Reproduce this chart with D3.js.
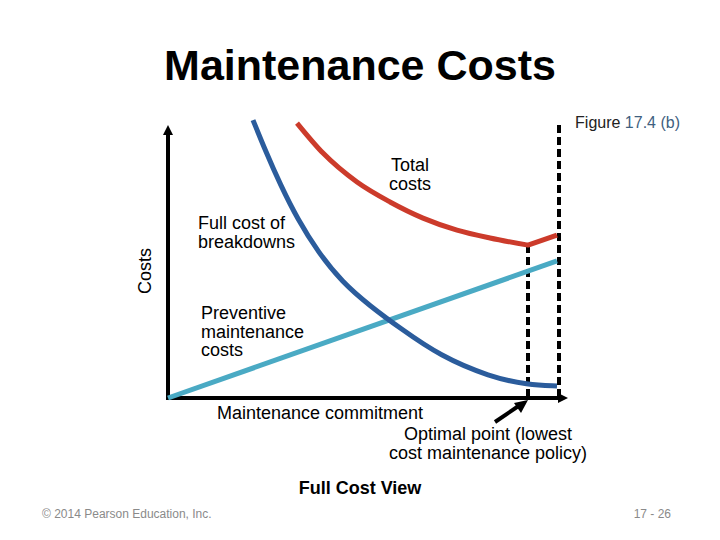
<!DOCTYPE html>
<html>
<head>
<meta charset="utf-8">
<script src="https://cdn.jsdelivr.net/npm/d3@7"></script>
<style>
  html, body { margin: 0; padding: 0; background: #fff; }
  svg { display: block; font-family: "Liberation Sans", Arial, sans-serif; }
</style>
</head>
<body>
<svg id="chart" width="720" height="540"></svg>
<script>
// ---- data (x: maintenance commitment, y: cost; arbitrary units) ----
const totalCosts = [[3.225,10.07],[3.875,8.97],[4.725,7.91],[5.55,7.18],[6.375,6.59],[7.225,6.15],[8.05,5.86],[9.0,5.60],[9.725,5.97]];
const breakdownCosts = [[2.125,10.18],[2.45,9.01],[2.8,7.84],[3.25,6.52],[3.75,5.35],[4.35,4.25],[5.05,3.37],[5.8,2.56],[6.8,1.54],[8.05,0.77],[9.0,0.48],[9.725,0.44]];
const preventiveCosts = [[0,0],[9.725,5.02]];
const optimalPoint = [9.0, 5.60];
const policyLimit = 9.775;
const xDomain = [0, 10];
const yDomain = [0, 10];

const svg = d3.select("#chart");
const x = d3.scaleLinear().domain(xDomain).range([168, 568]);
const y = d3.scaleLinear().domain(yDomain).range([398, 125]);

// title
svg.append("text").attr("x", 360).attr("y", 80).attr("text-anchor", "middle")
  .attr("font-size", 43).attr("font-weight", "bold").attr("fill", "#000").text("Maintenance Costs");

// figure ref
const fig = svg.append("text").attr("x", 680).attr("y", 128).attr("text-anchor", "end")
  .attr("font-size", 16).attr("fill", "#222");
fig.append("tspan").text("Figure ");
fig.append("tspan").attr("fill", "#3f5f80").text("17.4 (b)");

// dashed guide lines
svg.append("line").attr("x1", x(optimalPoint[0])).attr("x2", x(optimalPoint[0]))
  .attr("y1", y(optimalPoint[1])).attr("y2", y(0))
  .attr("stroke", "#000").attr("stroke-width", 4).attr("stroke-dasharray", "8,4");
svg.append("line").attr("x1", x(policyLimit)).attr("x2", x(policyLimit))
  .attr("y1", y(10)).attr("y2", y(0))
  .attr("stroke", "#000").attr("stroke-width", 4).attr("stroke-dasharray", "8,4");

// axes
svg.append("line").attr("x1", x(0)).attr("x2", x(0)).attr("y1", y(0) + 2).attr("y2", y(10) + 6)
  .attr("stroke", "#000").attr("stroke-width", 4);
svg.append("line").attr("x1", x(0) - 2).attr("x2", x(10) - 6).attr("y1", y(0)).attr("y2", y(0))
  .attr("stroke", "#000").attr("stroke-width", 4);
// arrowheads
svg.append("path").attr("d", `M${x(0)},${y(10)} L${x(0)-5},${y(10)+10} L${x(0)+5},${y(10)+10} Z`).attr("fill", "#000");
svg.append("path").attr("d", `M${x(10)},${y(0)} L${x(10)-10},${y(0)-5} L${x(10)-10},${y(0)+5} Z`).attr("fill", "#000");

// curves
const smooth = d3.line().x(d => x(d[0])).y(d => y(d[1])).curve(d3.curveMonotoneX);
const basis = d3.line().x(d => x(d[0])).y(d => y(d[1])).curve(d3.curveBasis);
const straight = d3.line().x(d => x(d[0])).y(d => y(d[1]));

svg.append("path").attr("d", straight(preventiveCosts)).attr("fill", "none")
  .attr("stroke", "#4aaac4").attr("stroke-width", 5);
svg.append("path").attr("d", basis(breakdownCosts)).attr("fill", "none")
  .attr("stroke", "#2b5c9c").attr("stroke-width", 5);
const minIdx = totalCosts.findIndex(d => d[0] === optimalPoint[0]);
svg.append("path").attr("d", smooth(totalCosts.slice(0, minIdx + 1)) + straight(totalCosts.slice(minIdx)).replace(/^M[^L]*/, ""))
  .attr("fill", "none").attr("stroke", "#cc3b2b").attr("stroke-width", 5).attr("stroke-linejoin", "round");

// labels
function multi(xp, yp, lines, anchor, size, lh, weight) {
  const t = svg.append("text").attr("x", xp).attr("y", yp).attr("text-anchor", anchor)
    .attr("font-size", size).attr("fill", "#000");
  if (weight) t.attr("font-weight", weight);
  lines.forEach((l, i) => t.append("tspan").attr("x", xp).attr("dy", i === 0 ? 0 : lh).text(l));
  return t;
}
multi(410, 171, ["Total", "costs"], "middle", 18, 19);
multi(198, 229, ["Full cost of", "breakdowns"], "start", 18, 19);
multi(201, 319, ["Preventive", "maintenance", "costs"], "start", 18, 18.5);
svg.append("text").attr("transform", "translate(151,271) rotate(-90)").attr("text-anchor", "middle")
  .attr("font-size", 18).attr("fill", "#000").text("Costs");
multi(217, 419, ["Maintenance commitment"], "start", 18, 19);
multi(488, 440, ["Optimal point (lowest", "cost maintenance policy)"], "middle", 18, 19);

// pointer arrow
svg.append("line").attr("x1", 495).attr("y1", 422).attr("x2", 520).attr("y2", 405)
  .attr("stroke", "#000").attr("stroke-width", 4);
svg.append("path").attr("d", "M528,400 L514,403 L521,413 Z").attr("fill", "#000");

svg.append("text").attr("x", 360).attr("y", 494).attr("text-anchor", "middle")
  .attr("font-size", 18).attr("font-weight", "bold").attr("fill", "#000").text("Full Cost View");

svg.append("text").attr("x", 42).attr("y", 518).attr("font-size", 12).attr("fill", "#8a8a8a")
  .text("© 2014 Pearson Education, Inc.");
svg.append("text").attr("x", 671).attr("y", 518).attr("text-anchor", "end").attr("font-size", 12).attr("fill", "#8a8a8a")
  .text("17 - 26");
</script>
</body>
</html>
